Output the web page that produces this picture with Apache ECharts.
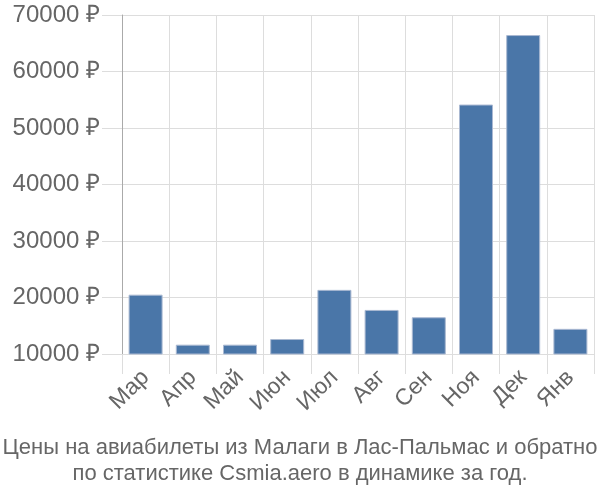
<!DOCTYPE html>
<html><head><meta charset="utf-8">
<script src="https://cdn.jsdelivr.net/npm/echarts@6/dist/echarts.min.js"></script>
<style>html,body{margin:0;padding:0;background:#fff}#c{width:600px;height:500px}</style>
</head><body><div id="c"></div>
<script>
var categories = ["Мар","Апр","Май","Июн","Июл","Авг","Сен","Ноя","Дек","Янв"];
var prices = [20500, 11650, 11650, 12650, 21350, 17800, 16500, 54150, 66450, 14450];
var titleLines = ["Цены на авиабилеты из Малаги в Лас-Пальмас и обратно","по статистике Csmia.aero в динамике за год."];
var chart = echarts.init(document.getElementById('c'), null, {renderer:'canvas'});
chart.setOption({
  animation:false,
  textStyle:{fontFamily:'Liberation Sans, Arial, sans-serif'},
  title:{text:titleLines.join('\n'), left:'center', bottom:8,
    textStyle:{fontSize:22, fontWeight:'normal', color:'#666', lineHeight:26, fontFamily:'Liberation Sans, Arial, sans-serif'}},
  grid:{left:122, right:6, top:15, bottom:146, containLabel:false},
  xAxis:{type:'category', data:categories,
    axisLine:{lineStyle:{color:'#ddd', width:1}},
    axisTick:{show:true, length:20, lineStyle:{color:'#ddd'}},
    splitLine:{show:true, lineStyle:{color:'#ddd'}},
    axisLabel:{rotate:45, fontSize:23, color:'#666', margin:20}},
  yAxis:{type:'value', min:10000, max:70000, interval:10000,
    axisLine:{show:true, lineStyle:{color:'#aaa'}},
    axisTick:{show:true, length:20, lineStyle:{color:'#ddd'}},
    splitLine:{lineStyle:{color:'#ddd'}},
    axisLabel:{fontSize:24, color:'#666', margin:22, formatter:function(v){return v+' ₽';}}},
  series:[{type:'bar', data:prices, barWidth:'72%',
    itemStyle:{color:'#4a76a8', borderColor:'#aab9d2', borderWidth:1}}]
});
</script></body></html>
